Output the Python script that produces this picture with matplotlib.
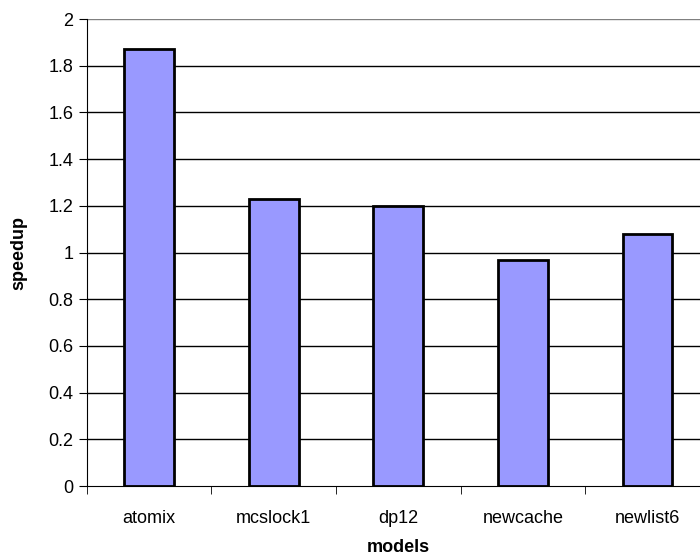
import matplotlib.pyplot as plt
import numpy as np

plt.rcParams['font.family'] = ['Liberation Sans', 'DejaVu Sans']

models = ['atomix', 'mcslock1', 'dp12', 'newcache', 'newlist6']
speedup = [1.87, 1.23, 1.20, 0.97, 1.08]
yticks = [0, 0.2, 0.4, 0.6, 0.8, 1, 1.2, 1.4, 1.6, 1.8, 2]
ytick_labels = ['0', '0.2', '0.4', '0.6', '0.8', '1', '1.2', '1.4', '1.6', '1.8', '2']

fig = plt.figure(figsize=(7, 5.6), dpi=100)
ax = fig.add_axes([0.124, 0.132, 0.89, 0.834])

x = np.arange(len(models))
# gridlines (top one gray like the excel plot border)
for v in yticks[1:]:
    ax.axhline(v, color='#808080' if v == 2 else 'black', lw=1, zorder=1)
ax.bar(x, speedup, width=0.4, color='#9999FF', edgecolor='black', lw=2, zorder=2)

ax.set_xlim(-0.5, len(models) - 0.5)
ax.set_ylim(0, 2)
ax.set_yticks(yticks)
ax.set_yticklabels(ytick_labels, fontsize=13)
ax.set_xticks(x)
ax.set_xticklabels(models, fontsize=13)
ax.set_xticks(np.arange(len(models) + 1) - 0.5, minor=True)
ax.tick_params(axis='x', which='major', length=0, pad=17)
ax.tick_params(axis='x', which='minor', length=6, direction='out')
ax.tick_params(axis='y', length=6, direction='out')

for s in ['top', 'right']:
    ax.spines[s].set_visible(False)
ax.spines['left'].set_color('black')
ax.spines['bottom'].set_color('black')

ax.set_xlabel('models', fontsize=13, fontweight='bold', labelpad=9)
ax.set_ylabel('speedup', fontsize=13, fontweight='bold', labelpad=15)

fig.savefig('out.png', dpi=100)
